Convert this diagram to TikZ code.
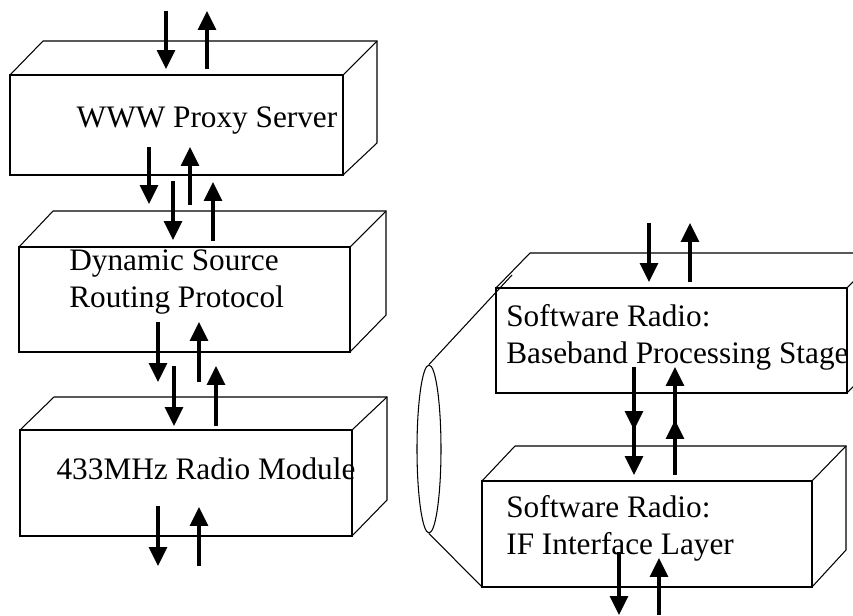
\documentclass[tikz,border=0pt]{standalone}
\usepackage{fontspec}
\setmainfont{Liberation Serif}
\usetikzlibrary{arrows.meta,shapes.geometric}
\tikzset{>={Triangle[length=10.8pt,width=10.2pt]}}
\tikzset{
  boxline/.style={black,line width=0.6pt},
  flow/.style={black,line width=1.9pt,->},
  layertext/.style={font=\fontsize{17.8}{21}\selectfont,inner sep=0pt}
}

\begin{document}
\begin{tikzpicture}[x=0.02cm,y=-0.02cm]
            \useasboundingbox (0,0) rectangle (853,616);
            \clip (0,0) rectangle (853,616);
            % left stack
            \draw[boxline] (10,75) rectangle (343,175);
            \draw[boxline] (10,75) -- (43,41) -- (377,41) -- (377,143) -- (343,175);
            \draw[boxline] (343,75) -- (377,41);
            \draw[boxline] (19,247) rectangle (350,352);
            \draw[boxline] (19,247) -- (53,211) -- (386,211) -- (386,315) -- (350,352);
            \draw[boxline] (350,247) -- (386,211);
            \draw[boxline] (20,430) rectangle (352,536);
            \draw[boxline] (20,430) -- (54,397) -- (387,397) -- (387,500) -- (352,536);
            \draw[boxline] (352,430) -- (387,397);
            \node[layertext] (proxy) at (207,121) {WWW Proxy Server};
            \node[layertext,align=left,anchor=west] (dsr) at (69,282) {Dynamic Source\\Routing Protocol};
            \node[layertext] (radio) at (206,469) {433MHz Radio Module};
            \draw[flow] (166,11) -- (166,69);
            \draw[flow] (207,69) -- (207,11);
            \draw[flow] (149,147) -- (149,204);
            \draw[flow] (190,205) -- (190,147);
            \draw[flow] (173,181) -- (173,240);
            \draw[flow] (213,241) -- (213,182);
            \draw[flow] (158,322) -- (158,382);
            \draw[flow] (199,382) -- (199,322);
            \draw[flow] (174,366) -- (174,426);
            \draw[flow] (216,426) -- (216,366);
            \draw[flow] (158,506) -- (158,566);
            \draw[flow] (199,566) -- (199,507);
            % right stack
            \draw[boxline] (496,288) rectangle (847,393);
            \draw[boxline] (496,288) -- (530,253) -- (881,253) -- (881,358) -- (847,393);
            \draw[boxline] (847,288) -- (881,253);
            \draw[boxline] (482,481) rectangle (812,587);
            \draw[boxline] (482,481) -- (515,446) -- (846,446) -- (846,550) -- (812,587);
            \draw[boxline] (812,481) -- (846,446);
            \node[layertext,align=left,anchor=west] (baseband) at (506,337) {Software Radio:\\Baseband Processing Stage};
            \node[layertext,align=left,anchor=west] (iflayer) at (506,528) {Software Radio:\\IF Interface Layer};
            \node[boxline,draw,ellipse,inner sep=0pt,minimum width=0.48cm,minimum height=3.36cm] (antenna) at (429,449) {};
            \draw[boxline] (antenna.north) -- (512,275);
            \draw[boxline] (antenna.south) -- (482,587);
            \draw[flow] (649,223) -- (649,282);
            \draw[flow] (690,282) -- (690,223);
            \draw[flow] (634,367) -- (634,430);
            \draw[flow] (634,420) -- (634,475);
            \draw[flow] (675,430) -- (675,367);
            \draw[flow] (675,475) -- (675,420);
            \draw[flow] (619,552) -- (619,615);
            \draw[flow] (659,615) -- (659,558);
        \end{tikzpicture}
\end{document}
